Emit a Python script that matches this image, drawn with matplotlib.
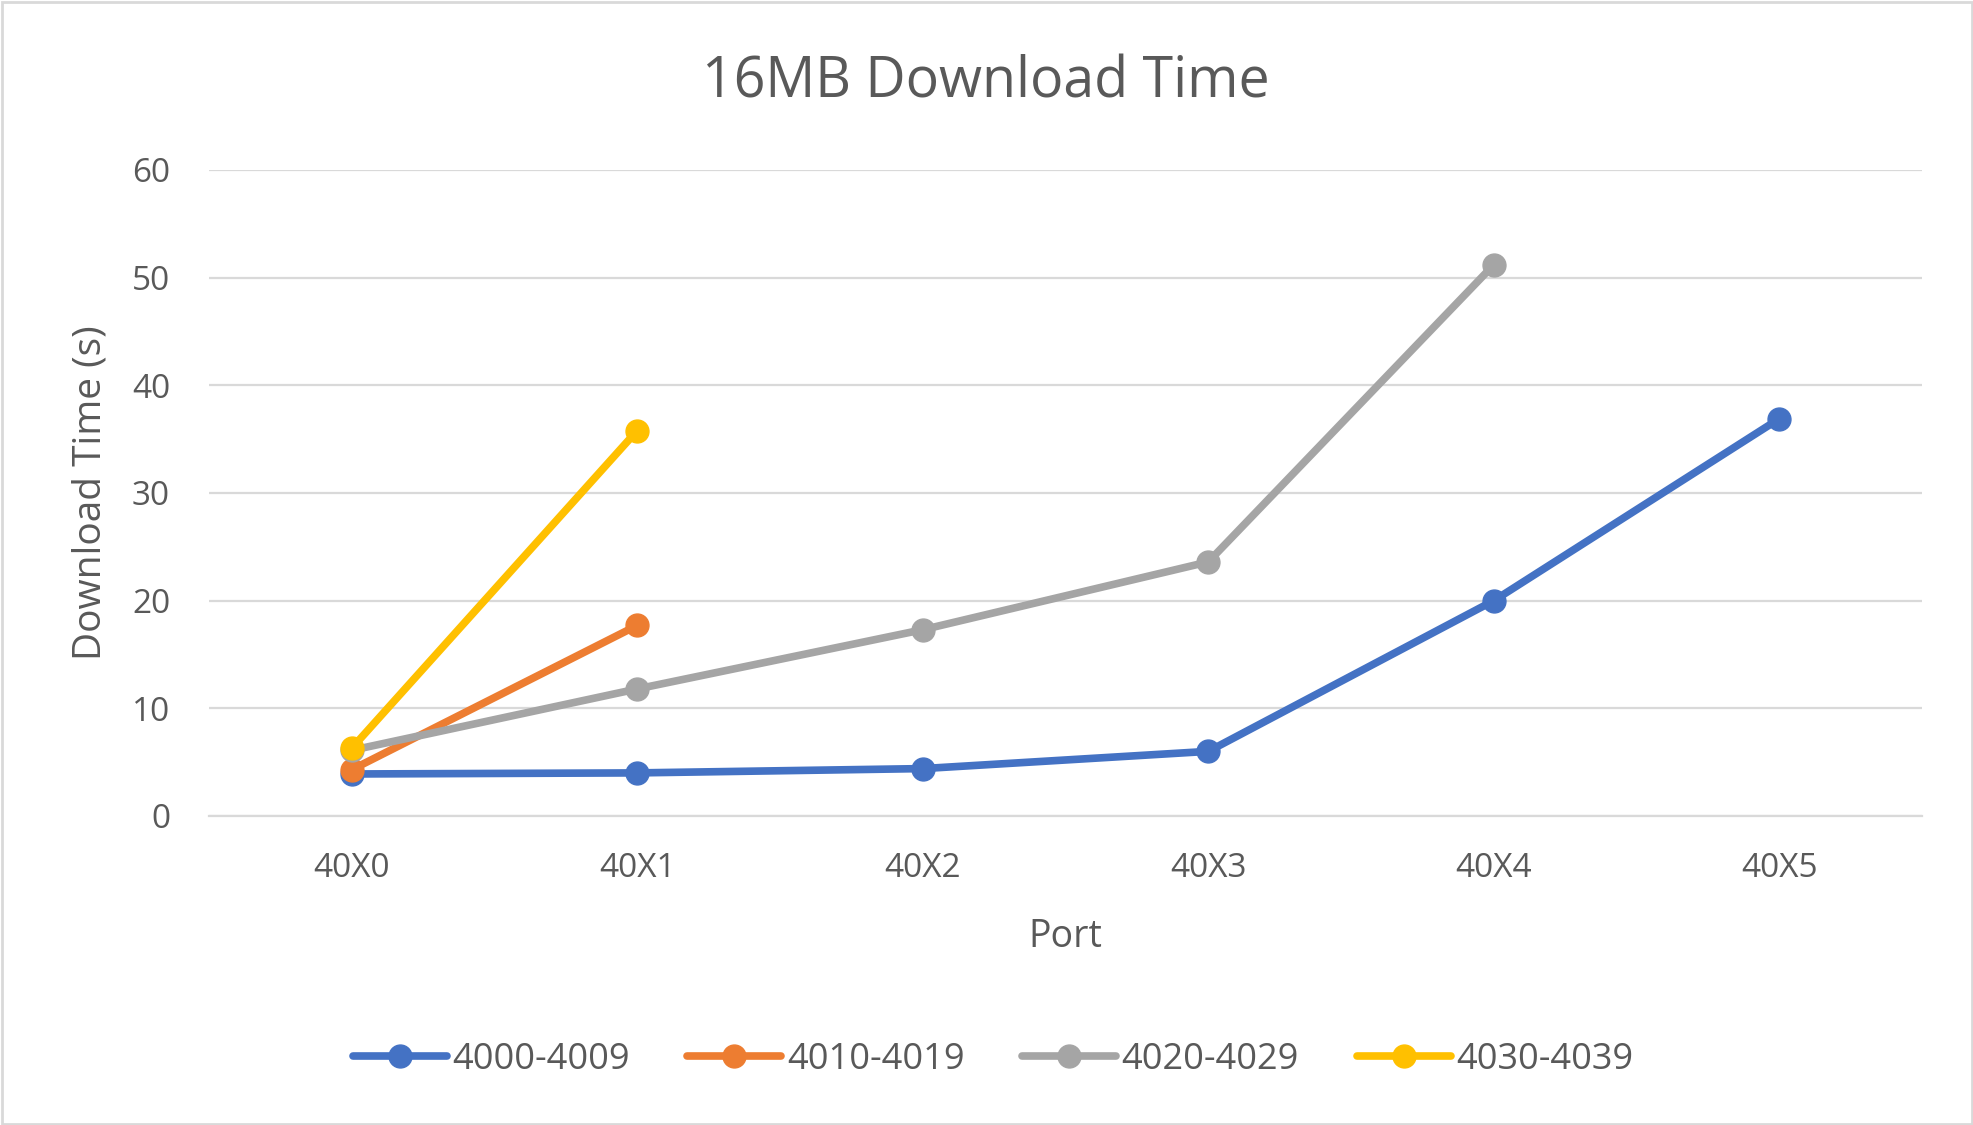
import matplotlib
matplotlib.use("Agg")
import matplotlib.pyplot as plt
from matplotlib.patches import Rectangle

ports = ["40X0", "40X1", "40X2", "40X3", "40X4", "40X5"]
s4000 = [3.9, 4.0, 4.4, 6.0, 20.0, 36.9]
s4010 = [4.3, 17.7]
s4020 = [6.1, 11.8, 17.3, 23.6, 51.2]
s4030 = [6.3, 35.8]
series_names = ["4000-4009", "4010-4019", "4020-4029", "4030-4039"]
series_vals = [s4000, s4010, s4020, s4030]
colors = ["#4472C4", "#ED7D31", "#A5A5A5", "#FFC000"]
yticks = [0, 10, 20, 30, 40, 50, 60]

plt.rcParams['font.family'] = ['Open Sans', 'DejaVu Sans']
txt = "#595959"

fig = plt.figure(figsize=(19.74, 11.25), dpi=100)
fig.patches.append(Rectangle((0.001, 0.001), 0.998, 0.997, transform=fig.transFigure,
                             fill=False, edgecolor="#D9D9D9", linewidth=2))
ax = fig.add_axes([0.1059, 0.2747, 0.8678, 0.5742])

for name, vals, c in zip(series_names, series_vals, colors):
    ax.plot(range(len(vals)), vals, color=c, linewidth=5.5, marker='o',
            markersize=16.5, label=name, solid_capstyle='round')

ax.set_xlim(-0.5, len(ports) - 0.5)
ax.set_ylim(0, 60)
ax.set_yticks(yticks)
ax.set_xticks(range(len(ports)))
ax.set_xticklabels(ports)
ax.grid(axis='y', color="#D9D9D9", linewidth=1.6)
ax.set_axisbelow(True)
for s in ["top", "right", "left"]:
    ax.spines[s].set_visible(False)
ax.spines["bottom"].set_color("#D9D9D9")
ax.spines["bottom"].set_linewidth(1.6)
ax.tick_params(axis='both', length=0, labelsize=24, labelcolor=txt)
ax.tick_params(axis='x', pad=26)
ax.tick_params(axis='y', pad=28)
ax.set_xlabel("Port", fontsize=27, color=txt, labelpad=24)
ax.set_ylabel("Download Time (s)", fontsize=28, color=txt, labelpad=16)
fig.text(0.4995, 0.926, "16MB Download Time", ha='center', va='center', fontsize=40, color=txt)

leg = fig.legend(loc='center', bbox_to_anchor=(0.503, 0.058), ncol=4, frameon=False,
                 fontsize=26, handlelength=2.6, columnspacing=1.6, handletextpad=0.15,
                 labelcolor=txt)

fig.savefig("out.png", dpi=100, facecolor="white")
